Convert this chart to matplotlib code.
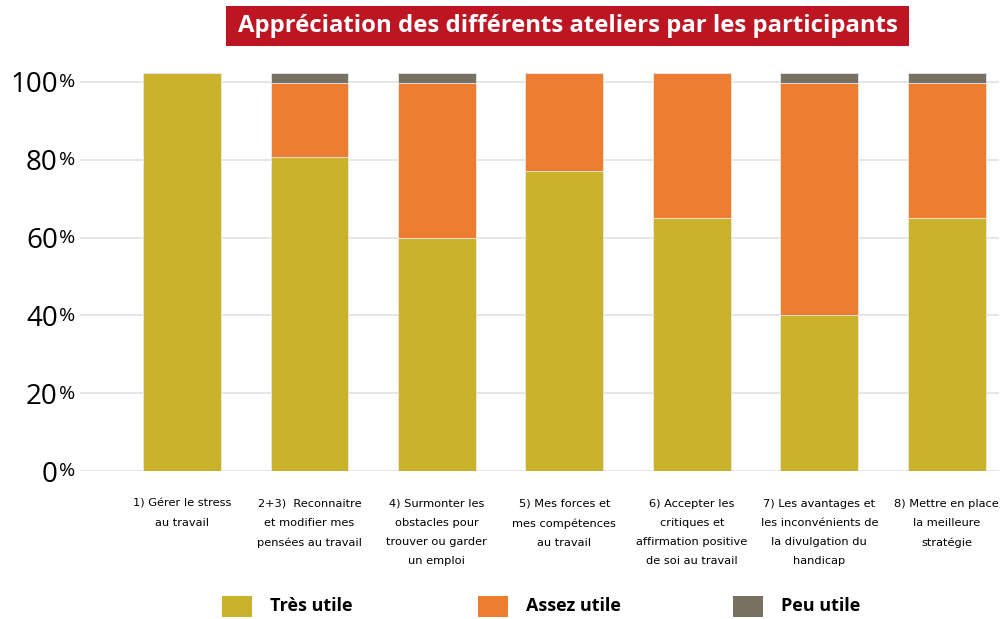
import numpy as np
import matplotlib
matplotlib.use("Agg")
import matplotlib.pyplot as plt
from matplotlib.patches import Rectangle

# ateliers (x labels)
ateliers = [
    "1) Gérer le stress\nau travail",
    "2+3)  Reconnaitre\net modifier mes\npensées au travail",
    "4) Surmonter les\nobstacles pour\ntrouver ou garder\nun emploi",
    "5) Mes forces et\nmes compétences\nau travail",
    "6) Accepter les\ncritiques et\naffirmation positive\nde soi au travail",
    "7) Les avantages et\nles inconvénients de\nla divulgation du\nhandicap",
    "8) Mettre en place\nla meilleure\nstratégie",
]
tres_utile = [102.3, 80.7, 60.0, 77.0, 65.0, 40.0, 65.0]
assez_utile = [0.0, 19.0, 39.7, 25.3, 37.3, 59.7, 34.7]
peu_utile = [0.0, 2.6, 2.6, 0.0, 0.0, 2.6, 2.6]
y_ticks = [0, 20, 40, 60, 80, 100]

series = ["Très utile", "Assez utile", "Peu utile"]
colors = ["#CBB22B", "#ED7D31", "#787060"]

fig = plt.figure(figsize=(10.08, 6.19), dpi=100)
ax = fig.add_axes([80 / 1008, (619 - 471) / 619, 919 / 1008, (471 - 73) / 619])

x = np.arange(len(ateliers))
bottom = np.zeros(len(ateliers))
for vals, col in zip([tres_utile, assez_utile, peu_utile], colors):
    ax.bar(x, vals, width=0.61, bottom=bottom, color=col,
           edgecolor="#e8e8e8", linewidth=0.6, zorder=3)
    bottom += np.array(vals)

ax.set_xlim(-0.8, 6.41)
ax.set_ylim(0, 102.3)
ax.set_yticks(y_ticks)
ax.set_yticklabels([str(t) for t in y_ticks], fontsize=20, family="Open Sans")
for t in y_ticks:
    ax.text(-0.0225, t - 0.1, "%", transform=ax.get_yaxis_transform(),
            ha="left", va="center", fontsize=14, family="Open Sans")
ax.tick_params(axis="y", length=0, pad=16)
ax.tick_params(axis="x", length=0)
ax.set_xticks([])
ax.grid(axis="y", color="#e2e2e2", linewidth=1.2, zorder=0)
for s in ax.spines.values():
    s.set_visible(False)

# x labels below the axis
for xi, lab in zip(x, ateliers):
    ax.annotate(lab, xy=(xi, 0), xycoords=("data", "axes fraction"),
                xytext=(0, -20), textcoords="offset points",
                ha="center", va="top", fontsize=8.2, linespacing=2.15,
                family=["Liberation Sans Narrow", "DejaVu Sans"])

# title box
fig.text(568 / 1008, 1 - 26 / 619, "Appréciation des différents ateliers par les participants",
         ha="center", va="center", color="white", fontsize=17.2, fontweight="bold",
         family="Open Sans")
fig.patches.append(Rectangle((226 / 1008, 1 - 46 / 619), 683 / 1008, 40 / 619,
                             transform=fig.transFigure, facecolor="#BD1622",
                             edgecolor="none", zorder=-1))

# legend
legend_x = [222, 478, 733]
for lx, name, col in zip(legend_x, series, colors):
    fig.patches.append(Rectangle((lx / 1008, 1 - 617 / 619), 30 / 1008, 21 / 619,
                                 transform=fig.transFigure, facecolor=col,
                                 edgecolor="none"))
    fig.text((lx + 48) / 1008, 1 - 606 / 619, name, ha="left", va="center",
             fontsize=13, fontweight="bold", family="Open Sans")

fig.savefig("out.png", dpi=100)
